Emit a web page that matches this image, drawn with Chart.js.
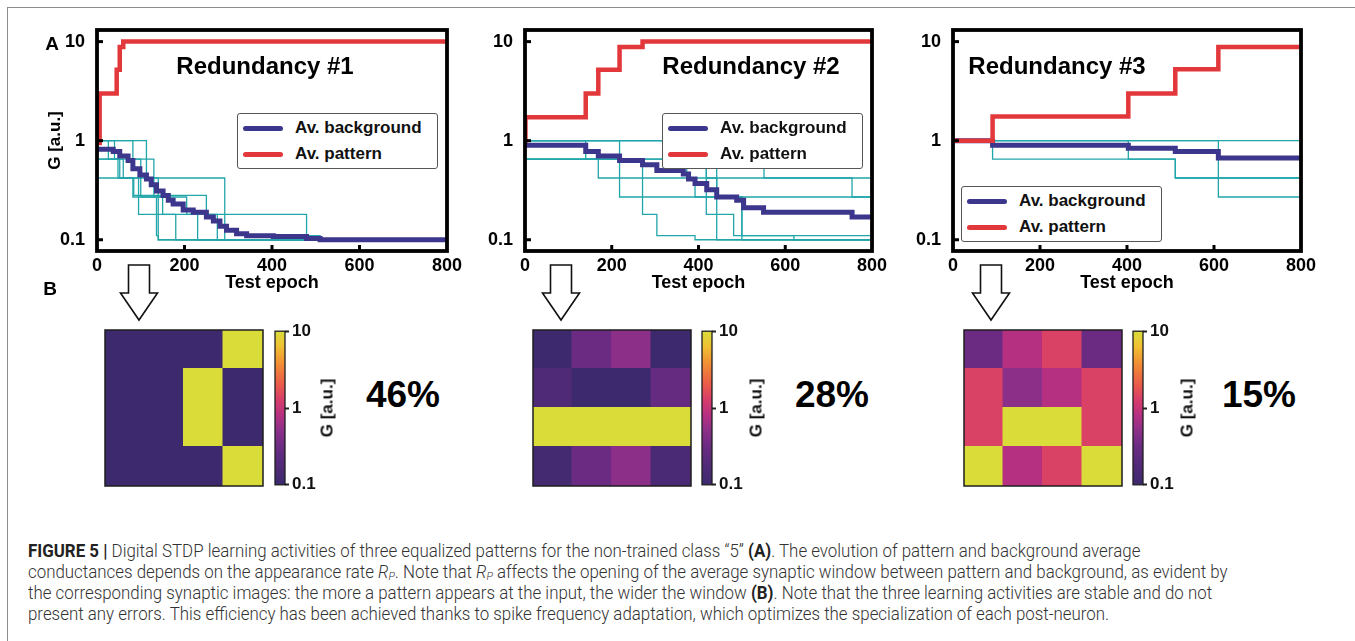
<!DOCTYPE html>
<html><head><meta charset="utf-8">
<script src="https://cdn.jsdelivr.net/npm/chart.js@4.4.1/dist/chart.umd.min.js"></script>
<style>
html,body{margin:0;padding:0;background:#fff;width:1355px;height:641px;overflow:hidden;font-family:"Liberation Sans",Arial,sans-serif;}
canvas{position:absolute;}
#box{position:absolute;left:7px;top:7px;width:1500px;height:800px;border-top:1.5px solid #8c8c8c;border-left:1.5px solid #8c8c8c;}
.t{position:absolute;white-space:nowrap;line-height:1;transform:translate(-50%,-50%);color:#000;font-weight:bold;}
.legend{position:absolute;background:#fff;border:1.3px solid #555;border-radius:3px;box-sizing:border-box;}
.lrow{position:absolute;left:0;height:20px;}
.lsw{position:absolute;width:40px;height:5px;border-radius:3px;}
.ltx{position:absolute;font-weight:bold;font-size:17px;line-height:20px;white-space:nowrap;color:#111;}
.rot{position:absolute;white-space:nowrap;line-height:1;transform:translate(-50%,-50%) rotate(-90deg);font-weight:bold;font-size:17px;color:#111;}
#caption{position:absolute;left:28px;top:541px;font-family:Roboto,"Liberation Sans",sans-serif;font-weight:300;color:#333;font-size:17.5px;}
.cl{height:21px;line-height:21px;white-space:nowrap;transform-origin:0 50%;}
.cl b{font-weight:bold;color:#222;}
.cl sub{font-size:11px;vertical-align:-2px;}
</style></head><body>
<div id="box"></div>
<script>
// ---------- data ----------
const epochTicks = [0, 200, 400, 600, 800];
const gTicks = [0.1, 1, 10];
const seriesLabels = ['Av. background', 'Av. pattern'];
const panelTitles = ['Redundancy #1', 'Redundancy #2', 'Redundancy #3'];
const percentLabels = ['46%', '28%', '15%'];
const imageColumns = ['c1', 'c2', 'c3', 'c4'];

// step change points: [epoch, G] = value of G from that epoch on
const r1Pattern = [[0,0.95],[6,3],[45,5.2],[52,8.8],[60,10],[800,10]];
const r1Background = [[0,0.82],[37,0.78],[52,0.70],[71,0.63],[82,0.52],[98,0.45],[113,0.41],[124,0.36],[136,0.31],[151,0.28],[163,0.25],[174,0.23],[197,0.2],[220,0.19],[250,0.17],[266,0.155],[281,0.137],[296,0.125],[319,0.115],[342,0.11],[403,0.108],[479,0.103],[510,0.1],[800,0.1]];
const r1Synapses = [
  [[0,1],[26,0.65],[52,0.42],[95,0.18],[136,0.11],[140,0.1],[800,0.1]],
  [[0,1],[82,0.65],[113,0.42],[140,0.28],[250,0.18],[479,0.11],[510,0.1],[800,0.1]],
  [[0,0.65],[48,0.42],[84,0.28],[140,0.1],[800,0.1]],
  [[0,1],[113,0.65],[130,0.42],[292,0.1],[800,0.1]],
  [[0,0.65],[60,0.42],[130,0.27],[205,0.18],[275,0.1],[800,0.1]],
  [[0,1],[40,0.65],[100,0.27],[150,0.18],[230,0.1],[800,0.1]],
  [[0,0.42],[82,0.27],[136,0.18],[180,0.1],[800,0.1]]
];

const r2Pattern = [[0,1],[1,1.72],[140,3.0],[169,5.2],[218,8.8],[271,10],[800,10]];
const r2Background = [[0,0.9],[140,0.78],[169,0.7],[218,0.63],[271,0.57],[304,0.5],[365,0.46],[377,0.41],[392,0.37],[419,0.32],[442,0.27],[488,0.25],[504,0.21],[550,0.19],[754,0.17],[800,0.17]];
const r2Synapses = [
  [[0,1],[140,0.65],[169,0.42],[754,0.27],[800,0.27]],
  [[0,1],[218,0.27],[442,0.1],[800,0.1]],
  [[0,0.65],[271,0.18],[304,0.11],[392,0.1],[800,0.1]],
  [[0,1],[325,0.65],[418,0.18],[481,0.11],[620,0.1],[800,0.1]],
  [[0,0.65],[373,0.42],[392,0.27],[800,0.27]],
  [[0,1],[551,0.42],[800,0.42]],
  [[0,0.65],[442,0.27],[500,0.11],[800,0.11]],
  [[0,1],[418,0.42],[442,0.27],[500,0.1],[800,0.1]]
];

const r3Pattern = [[0,1],[91,1.75],[403,3.0],[511,5.25],[610,8.8],[800,8.8]];
const r3Background = [[0,1],[91,0.9],[403,0.84],[511,0.78],[610,0.67],[800,0.67]];
const r3Synapses = [
  [[0,1],[800,1]],
  [[0,1],[91,0.65],[511,0.42],[800,0.42]],
  [[0,1],[610,0.27],[800,0.27]],
  [[0,1],[403,0.65],[511,0.42],[800,0.42]]
];

// synaptic images (rows top to bottom), G [a.u.]
const r1Image = [[0.1,0.1,0.1,10],[0.1,0.1,10,0.1],[0.1,0.1,10,0.1],[0.1,0.1,0.1,10]];
const r2Image = [[0.1,0.32,0.5,0.1],[0.17,0.1,0.1,0.28],[10,10,10,10],[0.12,0.32,0.5,0.15]];
const r3Image = [[0.32,0.8,1.38,0.32],[1.38,0.5,0.8,1.38],[1.38,10,10,1.38],[10,0.8,1.38,10]];

// ---------- styling ----------
const colorPattern = '#e3383b', colorBackground = '#3c378c', colorSynapse = '#22a6aa';
const cmapStops = [[0,'#3d2a6e'],[0.15,'#552a7a'],[0.25,'#6b2b83'],[0.35,'#8b2f88'],[0.45,'#b53082'],[0.55,'#d63c6c'],[0.65,'#ea5a4a'],[0.78,'#f08a34'],[0.9,'#f0c032'],[1,'#dadc3a']];
function hex2rgb(h){return [parseInt(h.slice(1,3),16),parseInt(h.slice(3,5),16),parseInt(h.slice(5,7),16)];}
function cmapT(t){
  t=Math.max(0,Math.min(1,t));
  for(let i=1;i<cmapStops.length;i++){
    if(t<=cmapStops[i][0]){
      const [t0,c0]=cmapStops[i-1],[t1,c1]=cmapStops[i];
      const f=(t-t0)/(t1-t0), a=hex2rgb(c0), b=hex2rgb(c1);
      return 'rgb('+a.map((v,k)=>Math.round(v+(b[k]-v)*f)).join(',')+')';
    }
  }
  return cmapStops[cmapStops.length-1][1];
}
function cmapValue(v){return cmapT((Math.log10(v)+1)/2);}

const framePlugin = {
  id:'frame',
  afterDatasetsDraw(chart, args, o){
    const {ctx, chartArea:a} = chart;
    ctx.save();
    ctx.strokeStyle = o.color || '#000';
    if (o.ticks) {
      ctx.lineWidth = 3;
      const xs = chart.scales.x, ys = chart.scales.y;
      xs.ticks.forEach(t=>{ if(t.value>xs.min && t.value<xs.max){const p=xs.getPixelForValue(t.value);ctx.beginPath();ctx.moveTo(p,a.bottom);ctx.lineTo(p,a.bottom-6);ctx.stroke();}});
      ys.ticks.forEach(t=>{const p=ys.getPixelForValue(t.value);ctx.beginPath();ctx.moveTo(a.left,p);ctx.lineTo(a.left+6,p);ctx.stroke();});
    }
    ctx.lineWidth = o.width || 1;
    ctx.strokeRect(a.left, a.top, a.right-a.left, a.bottom-a.top);
    ctx.restore();
  }
};

function mkCanvas(x,y,w,h){const c=document.createElement('canvas');c.width=w;c.height=h;c.style.left=x+'px';c.style.top=y+'px';c.style.width=w+'px';c.style.height=h+'px';document.body.appendChild(c);return c;}
function mkText(cls,html,x,y,style){const d=document.createElement('div');d.className=cls;d.innerHTML=html;d.style.left=x+'px';d.style.top=y+'px';if(style)Object.assign(d.style,style);document.body.appendChild(d);return d;}
const toXY = s => s.map(([x,y])=>({x,y}));

function lineChart(p){
  const datasets = [];
  p.synapses.forEach(s=>datasets.push({label:'synapse', data:toXY(s), borderColor:colorSynapse, borderWidth:1.3, stepped:true, pointRadius:0, order:2}));
  datasets.push({label:seriesLabels[0], data:toXY(p.background), borderColor:colorBackground, borderWidth:5, stepped:true, pointRadius:0, order:1});
  datasets.push({label:seriesLabels[1], data:toXY(p.pattern), borderColor:colorPattern, borderWidth:4.5, stepped:true, pointRadius:0, order:0});
  const c = mkCanvas(p.left, 0, p.width, 300);
  new Chart(c, {type:'line', data:{datasets}, plugins:[framePlugin], options:{
    responsive:false, animation:false, events:[],
    layout:{padding:{left:p.padL, right:22, top:30, bottom:0}},
    plugins:{legend:{display:false}, tooltip:{enabled:false}, frame:{width:3.8, color:'#000', ticks:true}},
    scales:{
      x:{type:'linear', min:0, max:800, bounds:'data',
        afterBuildTicks:s=>{s.ticks=epochTicks.map(v=>({value:v}));},
        grid:{display:false}, border:{display:false},
        ticks:{font:{family:'Liberation Sans', size:18, weight:'bold'}, color:'#000', padding:-4, maxRotation:0, autoSkip:false, callback:v=>String(v)},
        title:{display:true, text:'Test epoch', color:'#000', font:{family:'Liberation Sans', size:18, weight:'bold'}, padding:{top:0,bottom:6}},
        afterFit:s=>{s.height=49;}},
      y:{type:'logarithmic', min:0.077, max:13.1, bounds:'data',
        afterBuildTicks:s=>{s.ticks=gTicks.map(v=>({value:v}));},
        grid:{display:false}, border:{display:false},
        ticks:{font:{family:'Liberation Sans', size:18, weight:'bold'}, color:'#000', padding:4, autoSkip:false, callback:v=>String(v)},
        title:{display:p.yTitle, text:'G [a.u.]', color:'#000', font:{family:'Liberation Sans', size:17, weight:'bold'}, padding:{top:2,bottom:0}},
        afterFit:s=>{s.width=p.yW;}}
    }}});
  // panel title
  mkText('t', p.title, p.titleX, 66, {fontSize:'24px'});
  // legend
  const lg = document.createElement('div'); lg.className='legend';
  Object.assign(lg.style,{left:p.lg[0]+'px', top:p.lg[1]+'px', width:'201px', height:'56px'});
  [[seriesLabels[0],colorBackground],[seriesLabels[1],colorPattern]].forEach(([lab,col],i)=>{
    const r=document.createElement('div'); r.className='lrow'; r.style.top=(4+i*26)+'px';
    r.innerHTML='<div class="lsw" style="left:5px;top:8px;background:'+col+'"></div><div class="ltx" style="left:57px;top:0">'+lab+'</div>';
    lg.appendChild(r);
  });
  document.body.appendChild(lg);
}

function heatmap(img, x){
  const datasets=[];
  for(let r=img.length-1;r>=0;r--){
    datasets.push({data:img[r].map(()=>1), backgroundColor:img[r].map(cmapValue), borderWidth:0, inflateAmount:1, barPercentage:1, categoryPercentage:1, stack:'s'});
  }
  const c = mkCanvas(x-2, 328, 162, 160);
  new Chart(c, {type:'bar', data:{labels:imageColumns, datasets}, plugins:[framePlugin], options:{
    responsive:false, animation:false, events:[],
    layout:{padding:2},
    plugins:{legend:{display:false}, tooltip:{enabled:false}, frame:{width:1.5, color:'#1e1e1e'}},
    scales:{x:{display:false, stacked:true}, y:{display:false, stacked:true, min:0, max:img.length}}
  }});
}

function colorbar(x){
  const c = mkCanvas(x-2, 318, 70, 180);
  new Chart(c, {type:'bar', data:{labels:['G'], datasets:[{data:[[0.1,10]], borderWidth:0, barPercentage:1, categoryPercentage:1,
      backgroundColor:(ctx)=>{const a=ctx.chart.chartArea; if(!a) return '#888'; const g=ctx.chart.ctx.createLinearGradient(0,a.bottom,0,a.top); for(let i=0;i<=20;i++){g.addColorStop(i/20,cmapT(i/20));} return g;}}]},
    plugins:[framePlugin], options:{
    responsive:false, animation:false, events:[],
    layout:{padding:{left:2,right:0,top:12,bottom:12}},
    plugins:{legend:{display:false}, tooltip:{enabled:false}, frame:{width:1.3, color:'#1e1e1e'}},
    scales:{x:{display:false},
      y:{type:'logarithmic', position:'right', min:0.1, max:10, bounds:'data',
        afterBuildTicks:s=>{s.ticks=gTicks.map(v=>({value:v}));},
        grid:{display:true, drawOnChartArea:false, drawTicks:true, tickLength:4, tickWidth:2, tickColor:'#222'},
        border:{display:false},
        ticks:{font:{family:'Liberation Sans', size:17, weight:'bold'}, color:'#111', padding:3, autoSkip:false, callback:v=>String(v)},
        afterFit:s=>{s.width=58;}}}
  }});
}

function arrow(cx){
  const ns='http://www.w3.org/2000/svg';
  const s=document.createElementNS(ns,'svg'); s.setAttribute('width','60'); s.setAttribute('height','70');
  s.style.position='absolute'; s.style.left=(cx-30)+'px'; s.style.top='260px';
  const p=document.createElementNS(ns,'polygon');
  const pts=[[30-10.5,5],[30+10.5,5],[30+10.5,33],[30+18.5,33],[30,60],[30-18.5,33],[30-10.5,33]];
  p.setAttribute('points',pts.map(q=>q.join(',')).join(' '));
  p.setAttribute('fill','#fff'); p.setAttribute('stroke','#111'); p.setAttribute('stroke-width','1.6'); p.setAttribute('stroke-linejoin','miter');
  s.appendChild(p); document.body.appendChild(s);
}

// ---------- build ----------
lineChart({left:40, width:429, padL:3, yW:54, yTitle:true, pattern:r1Pattern, background:r1Background, synapses:r1Synapses, title:panelTitles[0], titleX:265, lg:[237,113]});
lineChart({left:485, width:409, padL:0, yW:40, yTitle:false, pattern:r2Pattern, background:r2Background, synapses:r2Synapses, title:panelTitles[1], titleX:751, lg:[662,113]});
lineChart({left:913, width:410, padL:0, yW:40, yTitle:false, pattern:r3Pattern, background:r3Background, synapses:r3Synapses, title:panelTitles[2], titleX:1057, lg:[961,186]});

heatmap(r1Image, 105); heatmap(r2Image, 533); heatmap(r3Image, 964);
colorbar(275); colorbar(702); colorbar(1133);
[139,561,991].forEach(arrow);

mkText('t','A',52,43,{fontSize:'19px'});
mkText('t','B',50,288,{fontSize:'19px'});
[[403,percentLabels[0]],[832,percentLabels[1]],[1259,percentLabels[2]]].forEach(([x,t])=>mkText('t',t,x,394,{fontSize:'37px'}));
[327,756,1187].forEach(x=>mkText('rot','G [a.u.]',x,408));
</script>
<div id="caption">
<div class="cl"><b>FIGURE 5 |</b> Digital STDP learning activities of three equalized patterns for the non-trained class “5” <b>(A)</b>. The evolution of pattern and background average</div>
<div class="cl">conductances depends on the appearance rate <i>R<sub>P</sub></i>. Note that <i>R<sub>P</sub></i> affects the opening of the average synaptic window between pattern and background, as evident by</div>
<div class="cl">the corresponding synaptic images: the more a pattern appears at the input, the wider the window <b>(B)</b>. Note that the three learning activities are stable and do not</div>
<div class="cl">present any errors. This efficiency has been achieved thanks to spike frequency adaptation, which optimizes the specialization of each post-neuron.</div>
</div>
<script>
(function(){
  const lines=document.querySelectorAll('.cl');
  const w=lines[0].scrollWidth;
  const k=1200/w;
  lines.forEach(l=>{l.style.transform='scaleX('+k+')';});
})();
</script>
</body></html>
